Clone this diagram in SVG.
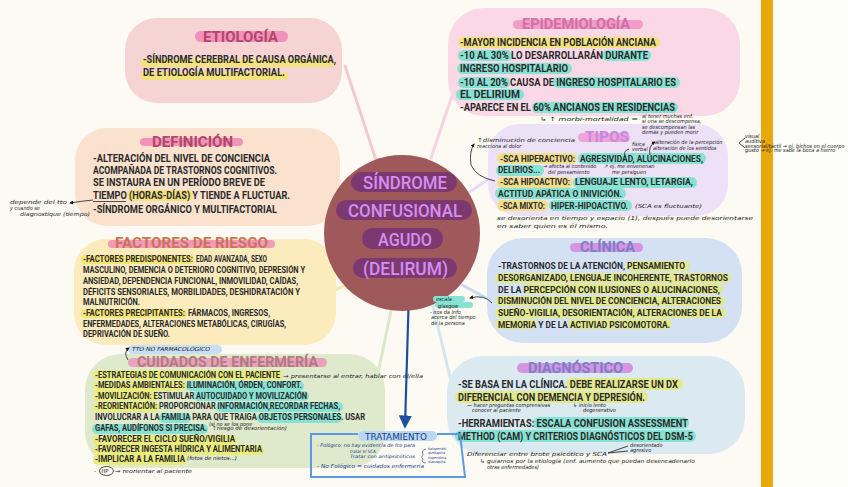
<svg xmlns="http://www.w3.org/2000/svg" width="848" height="487" viewBox="0 0 848 487">
<defs>
<style>
.b{font-family:Roboto,'Liberation Sans',sans-serif;font-weight:700;fill:#2a2a2a}
.f10{font-size:10px}.f9{font-size:9px}.f96{font-size:9.6px}.f85{font-size:8.5px}
.ti{font-family:Roboto,'Liberation Sans',sans-serif;font-weight:700;font-size:15px}
.hw{font-family:'DejaVu Sans Condensed','DejaVu Sans',sans-serif;font-style:oblique;fill:#1a1a1a;font-size:5.5px}
.y{fill:#f4e27c}.t{fill:#86e2d3}.l{fill:#e3e98a}.ly{fill:#e9ec7c}
.con{stroke-width:3;stroke-linecap:round;fill:none}
.pen{stroke:#1a1a1a;stroke-width:0.8;fill:none}
</style>
<marker id="ah" viewBox="0 0 10 10" refX="8" refY="5" markerWidth="6" markerHeight="6" orient="auto"><path d="M0 0L10 5L0 10z" fill="#1d4fa0"/></marker>
<marker id="pa" viewBox="0 0 10 10" refX="8" refY="5" markerWidth="5" markerHeight="5" orient="auto"><path d="M0 0L10 5L0 10z" fill="#1a1a1a"/></marker>
</defs>
<rect width="848" height="487" fill="#fcfaf2"/>
<rect x="773" width="75" height="487" fill="#fdfdf9"/>
<rect x="761" width="12" height="487" fill="#e9a90c"/>

<g id="connectors">
<path class="con" d="M345 66L376 160" stroke="#f3cbcf"/>
<path class="con" d="M452 96L431 158" stroke="#f7d3e2"/>
<path class="con" d="M316 163L341 189" stroke="#f8dcc6"/>
<path class="con" d="M318 297L346 285" stroke="#f8e6b0"/>
<path class="con" d="M465 195L495 175" stroke="#e6dcf6"/>
<path class="con" d="M462 285L490 300" stroke="#c9daf2"/>
<path class="con" d="M432 302L456 402" stroke="#d3e5ee"/>
<path class="con" d="M392 306L372 402" stroke="#dbe7c7"/>
<path d="M409 290L405 426" stroke="#1d4fa0" stroke-width="2.2" fill="none" marker-end="url(#ah)"/>
</g>

<g id="etiologia">
<rect x="125" y="18" width="217" height="85" rx="32" fill="#f6d4d4"/>
<rect x="195" y="31" width="93" height="11" rx="5.5" fill="#f292bb"/>
<text class="ti" x="203" y="42" textLength="75" lengthAdjust="spacingAndGlyphs" fill="#b2476b">ETIOLOGÍA</text>
<rect class="y" x="141" y="59" width="193" height="8" rx="4"/>
<rect class="y" x="141" y="72" width="147" height="8" rx="4"/>
<text class="b f10" x="143" y="63" textLength="193" lengthAdjust="spacingAndGlyphs">-SÍNDROME CEREBRAL DE CAUSA ORGÁNICA,</text>
<text class="b f10" x="143" y="76" textLength="142" lengthAdjust="spacingAndGlyphs">DE ETIOLOGÍA MULTIFACTORIAL.</text>
</g>

<g id="epidemiologia">
<rect x="448" y="8" width="292" height="108" rx="36" fill="#fad8e6"/>
<rect x="513" y="20" width="130" height="9" rx="4.5" fill="#f29cc8"/>
<text class="ti" x="522" y="29" textLength="108" lengthAdjust="spacingAndGlyphs" fill="#d46ea3">EPIDEMIOLOGÍA</text>
<rect class="y" x="458" y="37" width="202" height="11" rx="5.5"/>
<rect class="t" x="458" y="50" width="54" height="11" rx="5.5"/>
<rect class="t" x="602" y="50" width="49" height="11" rx="5.5"/>
<rect class="t" x="457" y="63" width="115" height="11" rx="5.5"/>
<rect class="t" x="458" y="77" width="52" height="11" rx="5.5"/>
<rect class="t" x="553" y="77" width="127" height="11" rx="5.5"/>
<rect class="t" x="456" y="89" width="68" height="11" rx="5.5"/>
<rect class="t" x="532" y="102" width="146" height="11" rx="5.5"/>
<text class="b f10" x="460" y="46" textLength="196" lengthAdjust="spacingAndGlyphs">-MAYOR INCIDENCIA EN POBLACIÓN ANCIANA</text>
<text class="b f10" x="460" y="59" textLength="188" lengthAdjust="spacingAndGlyphs">-10 AL 30% LO DESARROLLARÁN DURANTE</text>
<text class="b f10" x="460" y="71.5" textLength="108" lengthAdjust="spacingAndGlyphs">INGRESO HOSPITALARIO</text>
<text class="b f10" x="460" y="85.5" textLength="216" lengthAdjust="spacingAndGlyphs">-10 AL 20% CAUSA DE INGRESO HOSPITALARIO ES</text>
<text class="b f10" x="460" y="98" textLength="60" lengthAdjust="spacingAndGlyphs">EL DELIRIUM</text>
<text class="b f10" x="460" y="111" textLength="215" lengthAdjust="spacingAndGlyphs">-APARECE EN EL 60% ANCIANOS EN RESIDENCIAS</text>
</g>

<g id="tipos">
<rect x="488" y="124" width="240" height="92" rx="32" fill="#ede1f7"/>
<rect x="578" y="133" width="52" height="9" rx="4.5" fill="#f0a2d9"/>
<text class="ti" x="585" y="142" textLength="44" lengthAdjust="spacingAndGlyphs" fill="#c489de">TIPOS</text>
<rect x="497" y="153" width="80" height="11" rx="5.5" fill="#f2df8c"/>
<rect class="t" x="578" y="153" width="128" height="11" rx="5.5"/>
<rect class="t" x="496" y="165" width="48" height="11" rx="5.5"/>
<rect x="497" y="177" width="76" height="11" rx="5.5" fill="#f2df8c"/>
<rect class="t" x="573" y="177" width="124" height="11" rx="5.5"/>
<rect class="t" x="495" y="188" width="131" height="11" rx="5.5"/>
<rect x="497" y="200" width="51" height="11" rx="5.5" fill="#f2df8c"/>
<rect class="t" x="549" y="200" width="83" height="11" rx="5.5"/>
<text class="b f96" x="500" y="161.5" textLength="75" lengthAdjust="spacingAndGlyphs" fill="#cfae62">-SCA HIPERACTIVO:</text>
<text class="b f96" x="580" y="161.5" textLength="123" lengthAdjust="spacingAndGlyphs" fill="#1f3b35">AGRESIVIDAD, ALUCINACIONES,</text>
<text class="b f96" x="498" y="173" textLength="42" lengthAdjust="spacingAndGlyphs" fill="#1f3b35">DELIRIOS...</text>
<text class="b f96" x="500" y="185" textLength="70" lengthAdjust="spacingAndGlyphs" fill="#cfae62">-SCA HIPOACTIVO:</text>
<text class="b f96" x="575" y="185" textLength="118" lengthAdjust="spacingAndGlyphs" fill="#1f3b35">LENGUAJE LENTO, LETARGIA,</text>
<text class="b f96" x="498" y="196.7" textLength="124" lengthAdjust="spacingAndGlyphs" fill="#1f3b35">ACTITUD APÁTICA O INIVICIÓN.</text>
<text class="b f96" x="500" y="208.7" textLength="45" lengthAdjust="spacingAndGlyphs" fill="#cfae62">-SCA MIXTO:</text>
<text class="b f96" x="551" y="208.7" textLength="77" lengthAdjust="spacingAndGlyphs" fill="#1f3b35">HIPER-HIPOACTIVO.</text>
</g>

<g id="definicion">
<rect x="75" y="128" width="265" height="98" rx="32" fill="#fbe2ce"/>
<rect x="140" y="138" width="103" height="8" rx="4" fill="#f294b8"/>
<text class="ti" x="152" y="147" textLength="81" lengthAdjust="spacingAndGlyphs" fill="#b2476b">DEFINICIÓN</text>
<rect class="y" x="127" y="190" width="66" height="11" rx="5.5"/>
<text class="b f10" x="93" y="162" textLength="177" lengthAdjust="spacingAndGlyphs">-ALTERACIÓN DEL NIVEL DE CONCIENCIA</text>
<text class="b f10" x="93" y="174" textLength="184" lengthAdjust="spacingAndGlyphs">ACOMPAÑADA DE TRASTORNOS COGNITIVOS.</text>
<text class="b f10" x="93" y="186" textLength="172" lengthAdjust="spacingAndGlyphs">SE INSTAURA EN UN PERÍODO BREVE DE</text>
<text class="b f10" x="93" y="199" textLength="197" lengthAdjust="spacingAndGlyphs">TIEMPO (HORAS-DÍAS) Y TIENDE A FLUCTUAR.</text>
<path d="M93 201.5H126" stroke="#2a2a2a" stroke-width="0.8"/>
<text class="b f10" x="93" y="213" textLength="184" lengthAdjust="spacingAndGlyphs">-SÍNDROME ORGÁNICO Y MULTIFACTORIAL</text>
</g>

<g id="factores">
<rect x="74" y="239" width="262" height="106" rx="32" fill="#fbebbd"/>
<rect x="108" y="240" width="167" height="8" rx="4" fill="#f39ab9"/>
<text class="ti" x="115" y="248" textLength="153" lengthAdjust="spacingAndGlyphs" fill="#c8745a">FACTORES DE RIESGO</text>
<rect x="81" y="255" width="113" height="9" rx="4.5" fill="#f6e574"/>
<rect x="81" y="309" width="106" height="9" rx="4.5" fill="#f6e574"/>
<text class="b f85" x="83" y="262" textLength="110" lengthAdjust="spacingAndGlyphs" fill="#dcbf4a">-FACTORES PREDISPONENTES:</text>
<text class="b f85" x="196" y="262" textLength="71" lengthAdjust="spacingAndGlyphs">EDAD AVANZADA, SEXO</text>
<text class="b f85" x="83" y="273" textLength="222" lengthAdjust="spacingAndGlyphs">MASCULINO, DEMENCIA O DETERIORO COGNITIVO, DEPRESIÓN Y</text>
<text class="b f85" x="83" y="284" textLength="215" lengthAdjust="spacingAndGlyphs">ANSIEDAD, DEPENDENCIA FUNCIONAL, INMOVILIDAD, CAÍDAS,</text>
<text class="b f85" x="83" y="295" textLength="217" lengthAdjust="spacingAndGlyphs">DÉFICITS SENSORIALES, MORBILIDADES, DESHIDRATACIÓN Y</text>
<text class="b f85" x="83" y="305.3" textLength="57" lengthAdjust="spacingAndGlyphs">MALNUTRICIÓN.</text>
<text class="b f85" x="83" y="316" textLength="102" lengthAdjust="spacingAndGlyphs" fill="#dcbf4a">-FACTORES PRECIPITANTES:</text>
<text class="b f85" x="188" y="316" textLength="82" lengthAdjust="spacingAndGlyphs">FÁRMACOS, INGRESOS,</text>
<text class="b f85" x="83" y="326.7" textLength="203" lengthAdjust="spacingAndGlyphs">ENFERMEDADES, ALTERACIONES METABÓLICAS, CIRUGÍAS,</text>
<text class="b f85" x="83" y="337.4" textLength="87" lengthAdjust="spacingAndGlyphs">DEPRIVACIÓN DE SUEÑO.</text>
</g>

<g id="center">
<ellipse cx="402" cy="233" rx="78" ry="78" fill="#a0595b"/>
<rect x="351" y="172" width="106" height="20" rx="10" fill="#7c3970"/>
<rect x="336" y="200" width="136" height="20" rx="10" fill="#7c3970"/>
<rect x="362" y="228" width="81" height="21" rx="10" fill="#7c3970"/>
<rect x="353" y="258" width="104" height="20" rx="10" fill="#7c3970"/>
<g font-family="Roboto,'Liberation Sans',sans-serif" font-size="18" font-weight="500" fill="#d68df2">
<text x="363" y="188.5" textLength="84" lengthAdjust="spacingAndGlyphs">SÍNDROME</text>
<text x="348" y="217" textLength="114" lengthAdjust="spacingAndGlyphs">CONFUSIONAL</text>
<text x="378" y="246" textLength="54" lengthAdjust="spacingAndGlyphs">AGUDO</text>
<text x="363" y="275" textLength="85" lengthAdjust="spacingAndGlyphs">(DELIRUM)</text>
</g>
</g>

<g id="clinica">
<rect x="487" y="238" width="255" height="105" rx="36" fill="#d4e0f4"/>
<rect x="570" y="243" width="73" height="9" rx="4.5" fill="#d595e0"/>
<text class="ti" x="580" y="252" textLength="55" lengthAdjust="spacingAndGlyphs" fill="#7d7fc6">CLÍNICA</text>
<rect class="l" x="626" y="261" width="64" height="10" rx="5"/>
<rect class="l" x="495" y="273" width="236" height="10" rx="5"/>
<rect class="l" x="523" y="284" width="200" height="10" rx="5"/>
<rect class="l" x="495" y="296" width="230" height="10" rx="5"/>
<rect class="l" x="495" y="308" width="231" height="10" rx="5"/>
<rect class="l" x="495" y="319" width="42" height="10" rx="5"/>
<rect class="l" x="568" y="319" width="104" height="10" rx="5"/>
<text class="b f9" x="498" y="269" textLength="187" lengthAdjust="spacingAndGlyphs">-TRASTORNOS DE LA ATENCIÓN, PENSAMIENTO</text>
<text class="b f9" x="498" y="281" textLength="230" lengthAdjust="spacingAndGlyphs">DESORGANIZADO, LENGUAJE INCOHERENTE, TRASTORNOS</text>
<text class="b f9" x="498" y="292.5" textLength="222" lengthAdjust="spacingAndGlyphs">DE LA PERCEPCIÓN CON ILUSIONES O ALUCINACIONES,</text>
<text class="b f9" x="498" y="304" textLength="223" lengthAdjust="spacingAndGlyphs">DISMINUCIÓN DEL NIVEL DE CONCIENCIA, ALTERACIONES</text>
<text class="b f9" x="498" y="316" textLength="224" lengthAdjust="spacingAndGlyphs">SUEÑO-VIGILIA, DESORIENTACIÓN, ALTERACIONES DE LA</text>
<text class="b f9" x="498" y="327.5" textLength="172" lengthAdjust="spacingAndGlyphs">MEMORIA Y DE LA ACTIVIAD PSICOMOTORA.</text>
</g>

<g id="diagnostico">
<rect x="447" y="356" width="298" height="98" rx="36" fill="#dbe9f1"/>
<rect x="517" y="363" width="116" height="10" rx="5" fill="#d595e0"/>
<text class="ti" x="528" y="373" textLength="95" lengthAdjust="spacingAndGlyphs" fill="#7d7fc6">DIAGNÓSTICO</text>
<rect class="l" x="566" y="378" width="117" height="12" rx="6"/>
<rect class="l" x="455" y="391" width="193" height="12" rx="6"/>
<rect class="t" x="533" y="417" width="156" height="12" rx="6"/>
<rect class="t" x="455" y="430" width="241" height="12" rx="6"/>
<text class="b f10" x="458" y="388" textLength="220" lengthAdjust="spacingAndGlyphs">-SE BASA EN LA CLÍNICA. DEBE REALIZARSE UN DX</text>
<text class="b f10" x="458" y="401" textLength="187" lengthAdjust="spacingAndGlyphs">DIFERENCIAL CON DEMENCIA Y DEPRESIÓN.</text>
<text class="b f10" x="458" y="427" textLength="230" lengthAdjust="spacingAndGlyphs">-HERRAMIENTAS: ESCALA CONFUSION ASSESSMENT</text>
<text class="b f10" x="458" y="440" textLength="235" lengthAdjust="spacingAndGlyphs">METHOD (CAM) Y CRITERIOS DIAGNÓSTICOS DEL DSM-5</text>
</g>

<g id="cuidados">
<rect x="85" y="354" width="300" height="114" rx="36" fill="#dfe9cc"/>
<rect x="128" y="345" width="94" height="9" rx="4.5" fill="#c9def4"/>
<text class="hw" x="132" y="351.3" font-size="5.2" textLength="78" lengthAdjust="spacingAndGlyphs">TTO NO FARMACOLÓGICO</text>
<path class="pen" d="M128 360Q123 352 129 348" marker-end="url(#pa)"/>
<rect x="128" y="358" width="199" height="9" rx="4.5" fill="#e8a2bc"/>
<text class="ti" x="137" y="367" textLength="181" lengthAdjust="spacingAndGlyphs" fill="#b27b7d">CUIDADOS DE ENFERMERÍA</text>
<rect class="ly" x="93" y="370" width="190" height="10" rx="5"/>
<rect class="ly" x="93" y="381" width="93" height="10" rx="5"/>
<rect class="t" x="186" y="381" width="118" height="10" rx="5"/>
<rect class="ly" x="93" y="391" width="65" height="10" rx="5"/>
<rect class="t" x="193" y="391" width="116" height="10" rx="5"/>
<rect class="ly" x="93" y="402" width="66" height="10" rx="5"/>
<rect class="t" x="216" y="402" width="127" height="10" rx="5"/>
<rect class="t" x="159" y="413" width="32" height="10" rx="5"/>
<rect class="t" x="257" y="413" width="85" height="10" rx="5"/>
<rect class="t" x="92" y="424" width="116" height="10" rx="5"/>
<rect class="ly" x="93" y="435" width="144" height="10" rx="5"/>
<rect class="ly" x="93" y="445" width="171" height="10" rx="5"/>
<rect class="ly" x="93" y="455" width="94" height="10" rx="5"/>
<text class="b f85" x="95" y="377.5" textLength="185" lengthAdjust="spacingAndGlyphs">-ESTRATEGIAS DE COMUNICACIÓN CON EL PACIENTE</text>
<text class="b f85" x="95" y="388" textLength="207" lengthAdjust="spacingAndGlyphs">-MEDIDAS AMBIENTALES: ILUMINACIÓN, ÓRDEN, CONFORT.</text>
<text class="b f85" x="95" y="398.5" textLength="212" lengthAdjust="spacingAndGlyphs">-MOVILIZACIÓN: ESTIMULAR AUTOCUIDADO Y MOVILIZACIÓN</text>
<text class="b f85" x="95" y="409.3" textLength="245" lengthAdjust="spacingAndGlyphs">-REORIENTACIÓN: PROPORCIONAR INFORMACIÓN,RECORDAR FECHAS,</text>
<text class="b f85" x="95" y="420" textLength="270" lengthAdjust="spacingAndGlyphs">INVOLUCRAR A LA FAMILIA PARA QUE TRAIGA OBJETOS PERSONALES. USAR</text>
<text class="b f85" x="95" y="431" textLength="112" lengthAdjust="spacingAndGlyphs">GAFAS, AUDÍFONOS SI PRECISA.</text>
<text class="b f85" x="95" y="441.5" textLength="140" lengthAdjust="spacingAndGlyphs">-FAVORECER EL CICLO SUEÑO/VIGILIA</text>
<text class="b f85" x="95" y="451.7" textLength="167" lengthAdjust="spacingAndGlyphs">-FAVORECER INGESTA HÍDRICA Y ALIMENTARIA</text>
<text class="b f85" x="95" y="461.9" textLength="90" lengthAdjust="spacingAndGlyphs">-IMPLICAR A LA FAMILIA</text>
</g>

<g id="tratamiento">
<path d="M358 434H311V477H465L460 434H437" fill="none" stroke="#5b9be6" stroke-width="2"/>
<rect x="358" y="431" width="79" height="10" rx="5" fill="#b9d8f1"/>
<text x="365" y="440" textLength="62" lengthAdjust="spacingAndGlyphs" font-family="'DejaVu Sans Condensed','DejaVu Sans',sans-serif" font-size="9" fill="#1b3a8c">TRATAMIENTO</text>
<g class="hw" style="fill:#1b3a8c">
<text x="317" y="447.3" font-size="5" textLength="98" lengthAdjust="spacingAndGlyphs">- Fológico: no hay evidencia de fco para</text>
<text x="350" y="452.9" font-size="4.5">tratar el SCA.</text>
<text x="350" y="458.3" font-size="4.5" textLength="65" lengthAdjust="spacingAndGlyphs">Tratar con antipsicóticos</text>
<text x="428" y="450" font-size="3.6">haloperidol</text>
<text x="428" y="454.3" font-size="3.6">quetiapina</text>
<text x="428" y="458.6" font-size="3.6">risperidona</text>
<text x="428" y="462.9" font-size="3.6">olanzapina</text>
<text x="317" y="468" textLength="107" lengthAdjust="spacingAndGlyphs">- No Fológico = cuidados enfermería</text>
</g>
<path d="M426 449Q421 450 423 455Q420 457 423 459Q421 463 426 463" fill="none" stroke="#1b3a8c" stroke-width="0.6"/>
</g>

<g id="notes">
<text class="hw" x="10" y="204" font-size="5" textLength="57" lengthAdjust="spacingAndGlyphs">depende del tto</text>
<text class="hw" x="10" y="210" font-size="5">y cuando se</text>
<text class="hw" x="20" y="216" font-size="5" textLength="70" lengthAdjust="spacingAndGlyphs">diagnostique (tiempo)</text>
<path class="pen" d="M93 200Q82 201 70 203" marker-end="url(#pa)"/>

<text class="hw" x="540" y="121" font-size="7" textLength="98" lengthAdjust="spacingAndGlyphs">↳ ↑ morbi-mortalidad =</text>
<text class="hw" x="642" y="118" font-size="4.5">al tener muchas enf.</text>
<text class="hw" x="642" y="123.4" font-size="4.5">si una se descompensa,</text>
<text class="hw" x="642" y="128.8" font-size="4.5">se descompensan las</text>
<text class="hw" x="642" y="134.2" font-size="4.5">demás y pueden morir</text>

<text class="hw" x="477" y="142" font-size="5" textLength="98" lengthAdjust="spacingAndGlyphs">↑disminución de conciencia</text>
<text class="hw" x="477" y="148" font-size="5">reacciona al dolor</text>
<path class="pen" d="M495 181Q476 177 471 165Q469 152 474 144" marker-end="url(#pa)"/>
<text class="hw" x="632" y="146.3" font-size="4">física</text>
<text class="hw" x="632" y="151.2" font-size="4">verbal</text>
<path class="pen" d="M629 149Q623 151 625 156"/>
<text class="hw" x="655" y="144" font-size="4.5">alteración de la percepción</text>
<text class="hw" x="653" y="149.5" font-size="4.5">alteración de los sentidos</text>
<path class="pen" d="M650 155Q648 146 655 142" marker-end="url(#pa)"/>
<path class="pen" d="M745 138L739 143L745 148"/>
<text class="hw" x="745" y="138" font-size="4">visual</text>
<text class="hw" x="745" y="142.8" font-size="4">auditiva</text>
<text class="hw" x="745" y="147.6" font-size="4">sensorial/táctil → ej. bichos en el cuerpo</text>
<text class="hw" x="745" y="152.4" font-size="4">gusto → ej. me sabe la boca a hierro</text>
<text class="hw" x="543" y="168.3" font-size="4.5">→ afecta al contenido</text>
<text class="hw" x="548" y="173.8" font-size="4.5">del pensamiento</text>
<text class="hw" x="604" y="168.3" font-size="4.5">↗ ej. me envenenan</text>
<text class="hw" x="612" y="173.8" font-size="4.5">me persiguen</text>
<text class="hw" x="635" y="208" font-size="6.5" textLength="67" lengthAdjust="spacingAndGlyphs">(SCA es fluctuante)</text>
<text class="hw" x="497" y="220" font-size="6.5" textLength="256" lengthAdjust="spacingAndGlyphs">se desorienta en tiempo y espacio (1), después puede desorientarse</text>
<text class="hw" x="497" y="228" font-size="6.5" textLength="111" lengthAdjust="spacingAndGlyphs">en saber quien es él mismo.</text>

<rect x="433" y="296" width="32" height="6" rx="3" fill="#86e2d3"/>
<rect x="435" y="302" width="38" height="6" rx="3" fill="#86e2d3"/>
<text class="hw" x="436" y="301" font-size="5.5">escala</text>
<text class="hw" x="438" y="307.5" font-size="5.5">glasgow</text>
<text class="hw" x="430" y="314" font-size="4.5">- nos da info</text>
<text class="hw" x="431" y="319.3" font-size="4.5">acerca del tiempo</text>
<text class="hw" x="431" y="324.6" font-size="4.5">de la persona</text>
<path class="pen" d="M492 303Q484 294 470 298" marker-end="url(#pa)"/>

<text class="hw" x="283" y="377.8" font-size="5" textLength="140" lengthAdjust="spacingAndGlyphs">→ presentarse al entrar, hablar con él/ella</text>
<text class="hw" x="209" y="426" font-size="3.6">(si no se los pone</text>
<text class="hw" x="212" y="430.4" font-size="3.6" textLength="75" lengthAdjust="spacingAndGlyphs">↑riesgo de desorientación)</text>
<text class="hw" x="187" y="460" textLength="50" lengthAdjust="spacingAndGlyphs">(fotos de nietos...)</text>
<text class="hw" x="94" y="473" font-size="6">-</text>
<ellipse cx="106.5" cy="471" rx="7" ry="4.5" fill="none" stroke="#1a1a1a" stroke-width="0.8"/>
<text class="hw" x="101.5" y="473" font-size="6">HP</text>
<text class="hw" x="115" y="473" font-size="6" textLength="77" lengthAdjust="spacingAndGlyphs">→ reorientar al paciente</text>

<text class="hw" x="467" y="406.5" font-size="4">— hacer preguntas comprensivas</text>
<text class="hw" x="472" y="411.5" font-size="4">conocer al paciente</text>
<text class="hw" x="573" y="406.5" font-size="4">↳ inicio lento</text>
<text class="hw" x="583" y="411.5" font-size="4">degenerativo</text>
<text class="hw" x="467" y="456" font-size="7" textLength="140" lengthAdjust="spacingAndGlyphs">Diferenciar entre brote psicótico y SCA</text>
<path class="pen" d="M628 446L608 453L628 451"/>
<text class="hw" x="630" y="446.8" font-size="4.5">desorientado</text>
<text class="hw" x="630" y="452.2" font-size="4.5">agresivo</text>
<text class="hw" x="480" y="462.5" font-size="5" textLength="215" lengthAdjust="spacingAndGlyphs">↳ guiarnos por la etiología (enf. aumento que puedan desencadenarlo</text>
<text class="hw" x="487" y="468.5" font-size="5">otras enfermedades)</text>
</g>
</svg>
